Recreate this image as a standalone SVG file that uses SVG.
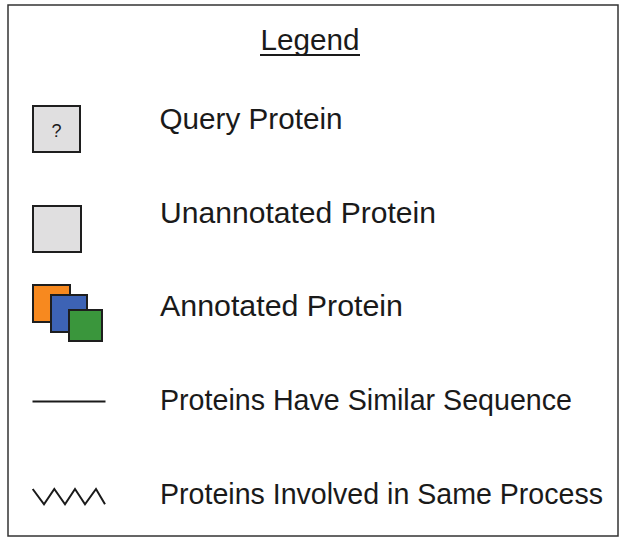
<svg xmlns="http://www.w3.org/2000/svg" width="621" height="538" viewBox="0 0 621 538">
<style>
  .lbl { font-family: "Liberation Sans", Arial, sans-serif; font-size: 29px; fill: #1a1a1a; }
  .box { stroke: #1e1e1e; stroke-width: 2; }
  .gray { fill: #e0dfe0; }
  .sym { fill: none; stroke: #1a1a1a; stroke-width: 2; }
</style>
<rect x="0" y="0" width="621" height="538" fill="#ffffff"/>
<rect id="frame" x="8" y="5" width="610" height="531" fill="none" stroke="#333" stroke-width="1.5"/>
<g id="title">
  <text class="lbl" x="310" y="50" text-anchor="middle" textLength="99" lengthAdjust="spacingAndGlyphs">Legend</text>
  <line x1="260" y1="55" x2="360" y2="55" stroke="#1a1a1a" stroke-width="2"/>
</g>
<g id="query-protein">
  <rect class="box gray" x="33" y="106" width="47" height="46"/>
  <text x="56.5" y="137" text-anchor="middle" font-family="Liberation Sans, Arial, sans-serif" font-size="18" fill="#1a1a1a">?</text>
  <text class="lbl" x="159.5" y="129" textLength="183" lengthAdjust="spacingAndGlyphs">Query Protein</text>
</g>
<g id="unannotated-protein">
  <rect class="box gray" x="33" y="206" width="48" height="46"/>
  <text class="lbl" x="160" y="223" textLength="276" lengthAdjust="spacingAndGlyphs">Unannotated Protein</text>
</g>
<g id="annotated-protein">
  <rect class="box" x="33" y="285" width="37" height="37" fill="#f7891f"/>
  <rect class="box" x="51" y="295" width="36" height="37" fill="#3d63b5"/>
  <rect class="box" x="69" y="310" width="33" height="31" fill="#3a963c"/>
  <text class="lbl" x="160" y="315.5" textLength="243" lengthAdjust="spacingAndGlyphs">Annotated Protein</text>
</g>
<g id="similar-sequence">
  <line class="sym" x1="32.5" y1="401.5" x2="105.5" y2="401.5" stroke-width="1.8"/>
  <text class="lbl" x="160" y="410" textLength="412" lengthAdjust="spacingAndGlyphs">Proteins Have Similar Sequence</text>
</g>
<g id="same-process">
  <polyline class="sym" points="32.7,489 44,504.3 54.3,489 65,504.3 75,489 85,504.3 96,489 105,504.3"/>
  <text class="lbl" x="160" y="504" textLength="443" lengthAdjust="spacingAndGlyphs">Proteins Involved in Same Process</text>
</g>
</svg>
